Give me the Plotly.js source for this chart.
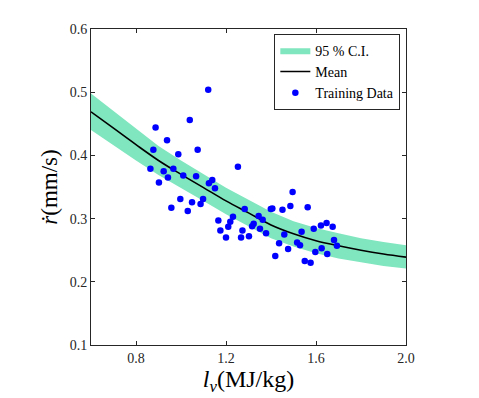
<!DOCTYPE html>
<html>
<head>
<meta charset="utf-8">
<script src="https://cdn.plot.ly/plotly-3.0.1.min.js"></script>
<style>
  html, body { margin: 0; padding: 0; background: #fff; }
  #chart { width: 479px; height: 398px; }
</style>
</head>
<body>
<div id="chart"></div>
<script>
// GP mean and 95% band
const gridX = [0.6, 0.7, 0.8, 0.9, 1.0, 1.1, 1.2, 1.3, 1.4, 1.5, 1.6, 1.7, 1.8, 1.9, 2.0];
const meanY = [0.469, 0.443, 0.417, 0.392, 0.370, 0.349, 0.328, 0.309, 0.290, 0.276, 0.265, 0.257, 0.250, 0.244, 0.239];
const upperY = [0.498, 0.470, 0.442, 0.415, 0.392, 0.370, 0.349, 0.330, 0.311, 0.296, 0.285, 0.277, 0.269, 0.263, 0.258];
const lowerY = [0.440, 0.416, 0.392, 0.369, 0.348, 0.328, 0.307, 0.288, 0.269, 0.256, 0.245, 0.237, 0.231, 0.225, 0.221];

// training data points
const trainX = [0.864, 0.877, 0.887, 0.902, 0.923, 0.938, 0.942, 0.957, 0.966, 0.988,
                0.997, 1.010, 1.030, 1.039, 1.049, 1.067, 1.074, 1.087, 1.098, 1.121,
                1.124, 1.139, 1.151, 1.166, 1.175, 1.200, 1.210, 1.219, 1.231, 1.253,
                1.267, 1.273, 1.283, 1.302, 1.316, 1.323, 1.345, 1.351, 1.363, 1.378,
                1.399, 1.406, 1.419, 1.436, 1.451, 1.459, 1.476, 1.486, 1.496, 1.516,
                1.529, 1.536, 1.550, 1.563, 1.576, 1.590, 1.597, 1.622, 1.625, 1.647,
                1.650, 1.674, 1.680, 1.693];
const trainY = [0.379, 0.409, 0.444, 0.357, 0.375, 0.424, 0.365, 0.317, 0.379, 0.402,
                0.331, 0.368, 0.312, 0.456, 0.326, 0.367, 0.409, 0.323, 0.331, 0.504,
                0.356, 0.361, 0.348, 0.297, 0.281, 0.270, 0.287, 0.295, 0.303, 0.382,
                0.270, 0.281, 0.315, 0.272, 0.288, 0.292, 0.304, 0.284, 0.298, 0.277,
                0.315, 0.316, 0.241, 0.261, 0.314, 0.275, 0.252, 0.320, 0.342, 0.262,
                0.258, 0.279, 0.233, 0.318, 0.230, 0.284, 0.247, 0.289, 0.253, 0.293,
                0.244, 0.287, 0.266, 0.257];

const xTicks = [0.8, 1.2, 1.6, 2.0];
const xTickText = ['0.8', '1.2', '1.6', '2.0'];
const yTicks = [0.1, 0.2, 0.3, 0.4, 0.5, 0.6];

const serif = '"Liberation Serif", "DejaVu Serif", serif';

// band as one closed polygon: upper edge forward, lower edge back
const bandTrace = {
  x: gridX.concat(gridX.slice().reverse()),
  y: upperY.concat(lowerY.slice().reverse()),
  type: 'scatter',
  mode: 'lines',
  fill: 'toself',
  fillcolor: '#7fe6bf',
  line: { width: 0, color: '#7fe6bf' },
  name: '95 % C.I.',
  hoverinfo: 'skip'
};

const meanTrace = {
  x: gridX,
  y: meanY,
  type: 'scatter',
  mode: 'lines',
  line: { color: '#000000', width: 1.6, shape: 'spline' },
  name: 'Mean'
};

const dataTrace = {
  x: trainX,
  y: trainY,
  type: 'scatter',
  mode: 'markers',
  marker: { color: '#0000ff', size: 6.5 },
  name: 'Training Data'
};

const axisCommon = {
  showgrid: false,
  zeroline: false,
  showline: true,
  mirror: 'ticks',
  linecolor: '#262626',
  linewidth: 1,
  ticks: 'inside',
  ticklen: 4,
  tickcolor: '#262626',
  tickfont: { family: serif, size: 14, color: '#262626' }
};

const layout = {
  width: 479,
  height: 398,
  margin: { l: 91, r: 73, t: 29, b: 53 },
  paper_bgcolor: '#ffffff',
  plot_bgcolor: '#ffffff',
  showlegend: true,
  legend: {
    x: 0.982, y: 0.985,
    xanchor: 'right', yanchor: 'top',
    bgcolor: '#ffffff',
    bordercolor: '#262626',
    borderwidth: 1,
    itemwidth: 30,
    tracegroupgap: 0,
    font: { family: serif, size: 14, color: '#000000' }
  },
  xaxis: Object.assign({}, axisCommon, {
    range: [0.6, 2.0],
    tickvals: xTicks,
    ticktext: xTickText,
    title: {
      text: '<i>l</i><sub><i>v</i></sub>(MJ/kg)',
      font: { family: serif, size: 24, color: '#000000' },
      standoff: 2
    }
  }),
  yaxis: Object.assign({}, axisCommon, {
    range: [0.1, 0.6],
    tickvals: yTicks,
    tickformat: '.1f',
    title: {
      text: '<i>ṙ</i>(mm/s)',
      font: { family: serif, size: 23, color: '#000000' },
      standoff: 5
    }
  })
};

Plotly.newPlot('chart', [bandTrace, meanTrace, dataTrace], layout, { displayModeBar: false, staticPlot: true });
</script>
</body>
</html>
